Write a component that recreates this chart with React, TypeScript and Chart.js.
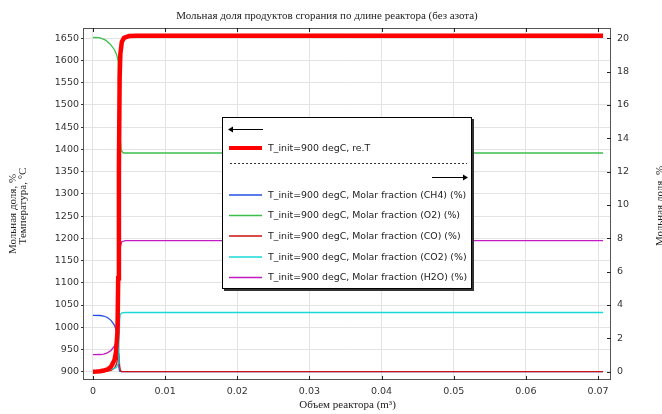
import React, { useEffect, useRef } from "react";
import { Chart, registerables } from "chart.js";

Chart.register(...registerables);

const TITLE = "Мольная доля продуктов сгорания по длине реактора (без азота)";
const X_TITLE = "Объем реактора (m³)";
const Y_TEMP_TITLE = "Температура, °C";
const Y_FRAC_TITLE = "Мольная доля, %";

const xTicks = [0, 0.01, 0.02, 0.03, 0.04, 0.05, 0.06, 0.07];
const tempTicks = [900, 950, 1000, 1050, 1100, 1150, 1200, 1250, 1300, 1350, 1400, 1450, 1500, 1550, 1600, 1650];
const fracTicks = [0, 2, 4, 6, 8, 10, 12, 14, 16, 18, 20];

const seriesNames = [
  "T_init=900 degC, re.T",
  "T_init=900 degC, Molar fraction (CH4) (%)",
  "T_init=900 degC, Molar fraction (O2) (%)",
  "T_init=900 degC, Molar fraction (CO) (%)",
  "T_init=900 degC, Molar fraction (CO2) (%)",
  "T_init=900 degC, Molar fraction (H2O) (%)",
];
const seriesColors = ["#ff0000", "#2150e6", "#3cbf4a", "#cc1111", "#18d8d8", "#c21bc2"];

const tempX = [0, 0.0005, 0.001, 0.0015, 0.002, 0.0025, 0.003, 0.0032, 0.0034, 0.0035, 0.0036, 0.0037, 0.0038, 0.004, 0.0043, 0.005, 0.006, 0.0707];
const tempY = [900, 900.3, 901, 902.5, 905, 911, 927, 945, 990, 1110, 1360, 1560, 1615, 1642, 1651, 1655, 1655.5, 1655.5];

const ch4X = [0, 0.001, 0.0015, 0.002, 0.0025, 0.003, 0.0032, 0.0034, 0.0035, 0.0036, 0.0037, 0.004, 0.0707];
const ch4Y = [3.38, 3.37, 3.34, 3.25, 3.08, 2.78, 2.5, 1.9, 1.0, 0.25, 0.03, 0, 0];

const o2X = [0, 0.0008, 0.0012, 0.0018, 0.0024, 0.003, 0.0033, 0.0035, 0.00355, 0.0037, 0.0039, 0.0042, 0.0707];
const o2Y = [20.05, 20.04, 20.0, 19.88, 19.65, 19.3, 19.0, 18.6, 17.0, 14.5, 13.3, 13.12, 13.12];

const coX = [0, 0.0015, 0.002, 0.0025, 0.003, 0.0033, 0.0035, 0.0036, 0.0037, 0.0038, 0.004, 0.0707];
const coY = [0, 0.01, 0.03, 0.08, 0.22, 0.5, 1.1, 1.0, 0.35, 0.08, 0, 0];

const co2X = [0, 0.001, 0.0015, 0.002, 0.0025, 0.003, 0.0033, 0.0035, 0.0036, 0.0037, 0.0038, 0.004, 0.0045, 0.0707];
const co2Y = [0.03, 0.05, 0.07, 0.1, 0.14, 0.2, 0.28, 0.5, 1.6, 3.1, 3.45, 3.53, 3.55, 3.55];

const h2oX = [0, 0.001, 0.0015, 0.002, 0.0025, 0.003, 0.0033, 0.0035, 0.0036, 0.0037, 0.0038, 0.004, 0.0045, 0.0707];
const h2oY = [1.02, 1.03, 1.06, 1.13, 1.27, 1.55, 1.9, 2.7, 4.5, 6.6, 7.5, 7.8, 7.86, 7.86];

const X_MIN = -0.00124;
const X_MAX = 0.0718;
const T_MIN = 881.3;
const T_MAX = 1673.2;
const F_MIN = (T_MIN - 900) / 37.5;
const F_MAX = (T_MAX - 900) / 37.5;

const pts = (xs: number[], ys: number[]) => xs.map((x, i) => ({ x, y: ys[i] }));

const TICK_FONT = { family: "DejaVu Sans", size: 9.5 };

const decorPlugin = {
  id: "decor",
  afterDatasetsDraw(chart: any) {
    const ctx = chart.ctx as CanvasRenderingContext2D;
    const a = chart.chartArea;
    const xs = chart.scales.x;
    const y1 = chart.scales.y1;
    ctx.save();
    ctx.strokeStyle = "#555";
    ctx.lineWidth = 1;
    ctx.strokeRect(Math.round(a.left) - 0.5, Math.round(a.top) + 0.5, Math.round(a.right - a.left), Math.round(a.bottom - a.top) - 1);
    ctx.strokeStyle = "#222";
    ctx.beginPath();
    xTicks.forEach((v) => {
      const px = Math.round(xs.getPixelForValue(v)) + 0.5;
      ctx.moveTo(px, a.top);
      ctx.lineTo(px, a.top + 4);
      ctx.moveTo(px, a.bottom);
      ctx.lineTo(px, a.bottom - 4);
    });
    fracTicks.forEach((v) => {
      const py = Math.round(y1.getPixelForValue(v)) + 0.5;
      ctx.moveTo(a.right, py);
      ctx.lineTo(a.right - 4, py);
    });
    ctx.stroke();
    ctx.restore();
  },
  afterDraw(chart: any) {
    const ctx = chart.ctx as CanvasRenderingContext2D;
    const a = chart.chartArea;
    ctx.save();
    ctx.fillStyle = "#222";
    ctx.font = '11px "Liberation Serif"';
    ctx.textAlign = "center";
    ctx.textBaseline = "middle";
    ctx.fillText(TITLE, 327, 16);
    ctx.fillText(X_TITLE, (a.left + a.right) / 2, 405);
    const rot = (t: string, x: number, y: number) => {
      ctx.save();
      ctx.translate(x, y);
      ctx.rotate(-Math.PI / 2);
      ctx.fillText(t, 0, 0);
      ctx.restore();
    };
    rot(Y_FRAC_TITLE, 13, 214);
    rot(Y_TEMP_TITLE, 23, 206);
    rot(Y_FRAC_TITLE, 660, 206);

    // legend box
    const L = 222, T = 117, W = 250, H = 172;
    ctx.fillStyle = "#333";
    ctx.fillRect(L + 2, T + 2, W, H);
    ctx.fillStyle = "#fff";
    ctx.fillRect(L, T, W, H);
    ctx.strokeStyle = "#000";
    ctx.lineWidth = 1;
    ctx.strokeRect(L + 0.5, T + 0.5, W - 1, H - 1);

    ctx.strokeStyle = "#000";
    ctx.fillStyle = "#000";
    ctx.beginPath();
    ctx.moveTo(231, 129.5);
    ctx.lineTo(263, 129.5);
    ctx.stroke();
    ctx.beginPath();
    ctx.moveTo(228, 129.5);
    ctx.lineTo(233, 126.5);
    ctx.lineTo(233, 132.5);
    ctx.closePath();
    ctx.fill();

    ctx.save();
    ctx.strokeStyle = "#333";
    ctx.setLineDash([2, 2]);
    ctx.beginPath();
    ctx.moveTo(230, 163.5);
    ctx.lineTo(467, 163.5);
    ctx.stroke();
    ctx.restore();

    ctx.beginPath();
    ctx.moveTo(432, 177.5);
    ctx.lineTo(464, 177.5);
    ctx.stroke();
    ctx.beginPath();
    ctx.moveTo(468, 177.5);
    ctx.lineTo(463, 174.5);
    ctx.lineTo(463, 180.5);
    ctx.closePath();
    ctx.fill();

    const rowsY = [148, 195, 215.5, 236, 257, 277.5];
    ctx.font = '9.4px "DejaVu Sans"';
    ctx.textAlign = "left";
    ctx.textBaseline = "middle";
    seriesNames.forEach((name, i) => {
      const y = rowsY[i];
      ctx.strokeStyle = seriesColors[i];
      ctx.lineWidth = i === 0 ? 4 : 1.5;
      ctx.beginPath();
      ctx.moveTo(229, y);
      ctx.lineTo(262, y);
      ctx.stroke();
      ctx.fillStyle = "#222";
      ctx.fillText(name, 268, y + 0.5);
    });
    ctx.restore();
  },
};

export default function App() {
  const ref = useRef<HTMLCanvasElement | null>(null);
  useEffect(() => {
    if (!ref.current) return;
    const mk = (i: number, xs: number[], ys: number[], axis: string, order: number) => ({
      label: seriesNames[i],
      data: pts(xs, ys),
      yAxisID: axis,
      borderColor: seriesColors[i],
      backgroundColor: seriesColors[i],
      borderWidth: i === 0 ? 4.5 : 1.3,
      pointRadius: 0,
      tension: 0,
      fill: false,
      order,
    });
    const chart = new Chart(ref.current, {
      type: "line",
      data: {
        datasets: [
          mk(0, tempX, tempY, "y", 0),
          mk(1, ch4X, ch4Y, "y1", 5),
          mk(2, o2X, o2Y, "y1", 4),
          mk(3, coX, coY, "y1", 3),
          mk(4, co2X, co2Y, "y1", 2),
          mk(5, h2oX, h2oY, "y1", 1),
        ] as any,
      },
      options: {
        animation: false,
        responsive: false,
        maintainAspectRatio: false,
        layout: { padding: { top: 28, left: 0, right: 0, bottom: 0 } },
        plugins: { legend: { display: false }, tooltip: { enabled: false }, title: { display: false } },
        scales: {
          x: {
            type: "linear",
            min: X_MIN,
            max: X_MAX,
            afterBuildTicks: (s: any) => {
              s.ticks = xTicks.map((v) => ({ value: v }));
            },
            afterFit: (s: any) => {
              s.height = 34;
            },
            grid: { color: "#e3e3e3", drawTicks: false },
            border: { display: false },
            ticks: {
              padding: 6,
              color: "#333",
              font: TICK_FONT,
              maxRotation: 0,
              autoSkip: false,
              callback: (v: any) => (Number(v) === 0 ? "0" : Number(v).toFixed(2)),
            },
          },
          y: {
            type: "linear",
            position: "left",
            min: T_MIN,
            max: T_MAX,
            afterBuildTicks: (s: any) => {
              s.ticks = tempTicks.map((v) => ({ value: v }));
            },
            afterFit: (s: any) => {
              s.width = 84;
            },
            grid: { color: "#e3e3e3", tickLength: 3, tickColor: "#333" },
            border: { display: false },
            ticks: { padding: 2, color: "#333", font: TICK_FONT, autoSkip: false, callback: (v: any) => String(v) },
          },
          y1: {
            type: "linear",
            position: "right",
            min: F_MIN,
            max: F_MAX,
            afterBuildTicks: (s: any) => {
              s.ticks = fracTicks.map((v) => ({ value: v }));
            },
            afterFit: (s: any) => {
              s.width = 51;
            },
            grid: { display: false, drawTicks: false },
            border: { display: false },
            ticks: { padding: 6, color: "#333", font: TICK_FONT, autoSkip: false, callback: (v: any) => String(v) },
          },
        },
      } as any,
      plugins: [decorPlugin],
    });
    return () => chart.destroy();
  }, []);
  return (
    <div style={{ position: "fixed", left: 0, top: 0, width: 662, height: 414, background: "#fff" }}>
      <canvas ref={ref} width={662} height={414} style={{ width: 662, height: 414 }} />
    </div>
  );
}
